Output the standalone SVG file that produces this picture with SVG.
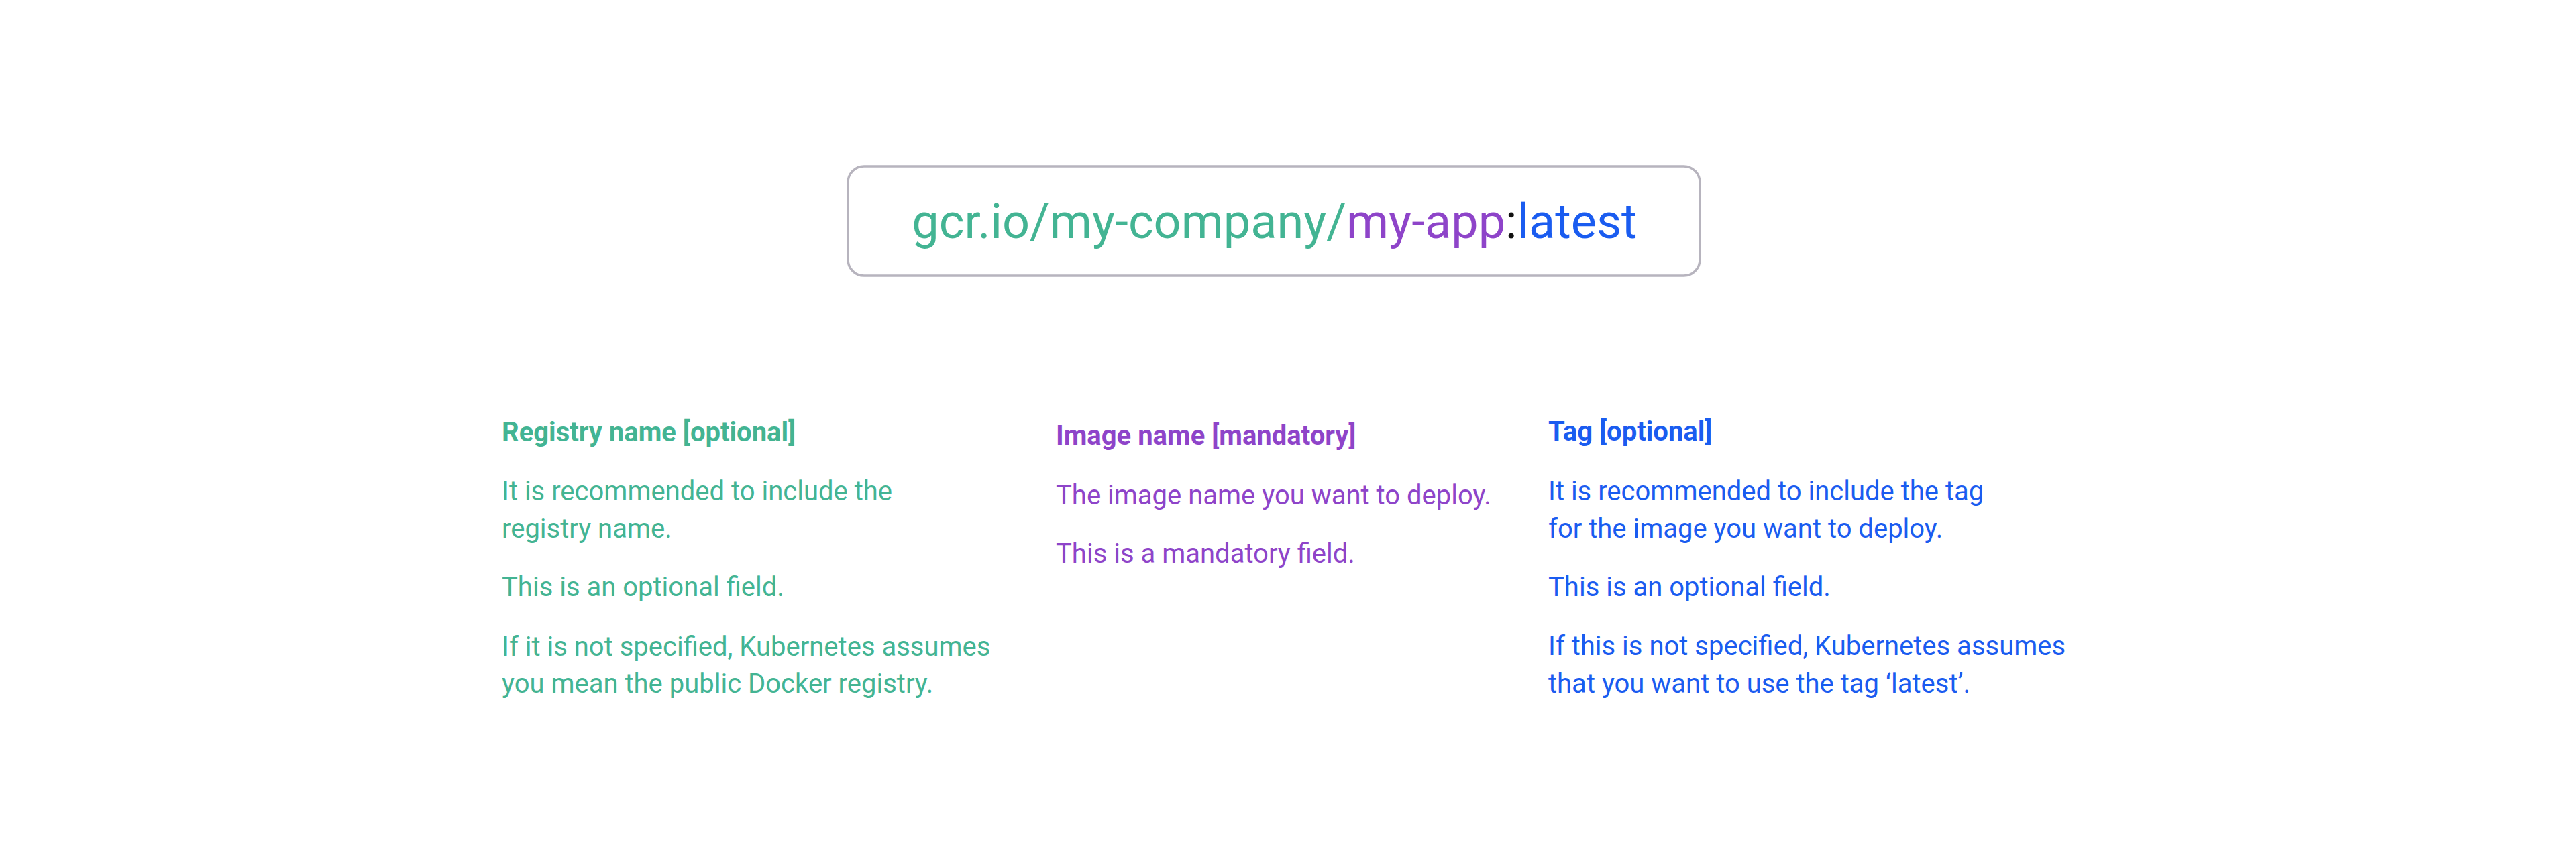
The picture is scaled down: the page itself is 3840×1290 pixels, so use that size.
<svg xmlns="http://www.w3.org/2000/svg" width="3840" height="1290" viewBox="0 0 3840 1290">
<style>
text{font-family:Roboto,"Liberation Sans",sans-serif}
.g{fill:#43b493}.p{fill:#8e44c9}.b{fill:#1a5cf0}.k{fill:#111}
.h{font-size:40px;font-weight:700}
.t{font-size:40px}
.main{font-size:72px}
</style>
<rect width="3840" height="1290" fill="#fff"/>
<g id="image-ref">
<rect x="1264" y="248" width="1270" height="163" rx="24" fill="#fff" stroke="#b7b4be" stroke-width="3.5"/>
<text class="main" x="1900" y="355" text-anchor="middle"><tspan class="g">gcr.io/my-company/</tspan><tspan class="p">my-app</tspan><tspan class="k">:</tspan><tspan class="b">latest</tspan></text>
</g>
<g id="registry">
<text class="h g" x="748" y="658">Registry name [optional]</text>
<text class="t g" x="748" y="746">It is recommended to include the</text>
<text class="t g" x="748" y="802">registry name.</text>
<text class="t g" x="748" y="889">This is an optional field.</text>
<text class="t g" x="748" y="978">If it is not specified, Kubernetes assumes</text>
<text class="t g" x="748" y="1033">you mean the public Docker registry.</text>
</g>
<g id="image">
<text class="h p" x="1574" y="663">Image name [mandatory]</text>
<text class="t p" x="1574" y="752">The image name you want to deploy.</text>
<text class="t p" x="1574" y="839">This is a mandatory field.</text>
</g>
<g id="tag">
<text class="h b" x="2308" y="657">Tag [optional]</text>
<text class="t b" x="2308" y="746">It is recommended to include the tag</text>
<text class="t b" x="2308" y="802">for the image you want to deploy.</text>
<text class="t b" x="2308" y="889">This is an optional field.</text>
<text class="t b" x="2308" y="977">If this is not specified, Kubernetes assumes</text>
<text class="t b" x="2308" y="1033">that you want to use the tag ‘latest’.</text>
</g>
<g id="connectors"></g>
</svg>
